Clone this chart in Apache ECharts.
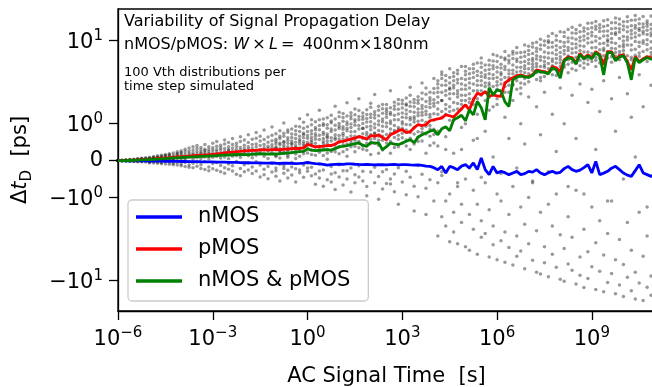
<!DOCTYPE html>
<html>
<head>
<meta charset="utf-8">
<script src="https://cdn.jsdelivr.net/npm/echarts@6/dist/echarts.min.js"></script>
<style>html,body{margin:0;padding:0;background:#fff}#c{width:652px;height:387px}</style>
</head>
<body>
<div id="c"></div>
<script>
const FONT = 'DejaVu Sans';

// Simulation time grid: 8 steps per decade starting at 1e-6 s
const stepsPerDecade = 8;
const firstExp = -6;

// Mean delay shift [ps] per time step
const nmos = [0, -0.001, -0.003, -0.003, -0.005, -0.005, -0.008, -0.008, -0.011, -0.011,
 -0.014, -0.014, -0.016, -0.016, -0.016, -0.019, -0.022, -0.022, -0.024, -0.027,
 -0.027, -0.030, -0.032, -0.032, -0.035, -0.038, -0.041, -0.041, -0.046, -0.049,
 -0.049, -0.054, -0.057, -0.054, -0.060, -0.062, -0.060, -0.065, -0.068, -0.062,
 -0.070, -0.076, -0.070, -0.068, -0.073, -0.078, -0.076, -0.065, -0.049, -0.068,
 -0.081, -0.089, -0.103, -0.122, -0.108, -0.100, -0.095, -0.103, -0.089, -0.087,
 -0.097, -0.103, -0.108, -0.100, -0.105, -0.114, -0.108, -0.111, -0.116, -0.108,
 -0.103, -0.114, -0.108, -0.105, -0.116, -0.119, -0.114, -0.130, -0.149, -0.154,
 -0.189, -0.243, -0.154, -0.333, -0.154, -0.189, -0.243, -0.149, -0.108, -0.198,
 -0.062, -0.243, 0.073, -0.243, -0.379, -0.154, -0.333, -0.289, -0.325, -0.379,
 -0.333, -0.289, -0.379, -0.352, -0.289, -0.311, -0.243, -0.333, -0.379, -0.325,
 -0.289, -0.338, -0.316, -0.216, -0.154, -0.243, -0.289, -0.257, -0.189, -0.108,
 -0.333, -0.019, -0.379, -0.338, -0.289, -0.203, -0.154, -0.243, -0.333, -0.392,
 -0.425, -0.270, -0.108, -0.333, -0.379, -0.425, -0.352];

const pmos = [0, 0.002, 0.003, 0.008, 0.014, 0.019, 0.027, 0.035, 0.043, 0.051,
 0.060, 0.068, 0.073, 0.081, 0.092, 0.100, 0.108, 0.116, 0.124, 0.133,
 0.141, 0.149, 0.154, 0.162, 0.173, 0.181, 0.195, 0.211, 0.222, 0.227,
 0.243, 0.252, 0.265, 0.271, 0.281, 0.276, 0.292, 0.298, 0.287, 0.298,
 0.303, 0.295, 0.311, 0.316, 0.325, 0.335, 0.330, 0.344, 0.446, 0.406,
 0.371, 0.384, 0.392, 0.406, 0.411, 0.446, 0.514, 0.522, 0.555, 0.587,
 0.609, 0.657, 0.622, 0.587, 0.676, 0.663, 0.703, 0.622, 0.568, 0.703,
 0.749, 0.812, 0.839, 0.757, 0.784, 0.893, 0.974, 0.947, 0.974, 1.087,
 1.117, 1.148, 1.171, 1.282, 1.248, 1.204, 1.345, 1.514, 1.692, 1.473,
 1.942, 2.339, 2.232, 2.444, 2.129, 2.232, 2.170, 2.129, 3.084, 3.38,
 3.57, 3.78, 3.88, 3.72, 3.70, 3.88, 4.46, 4.34, 4.25, 4.07,
 4.88, 4.71, 4.22, 5.88, 6.38, 6.21, 5.41, 7.03, 6.21, 6.75,
 6.21, 7.40, 6.75, 5.12, 7.40, 7.40, 5.88, 6.57, 6.75, 5.61,
 4.46, 6.44, 5.61, 6.04, 6.44, 6.17, 6.38];

const both = [0, 0.001, 0.002, 0.005, 0.008, 0.014, 0.019, 0.027, 0.032, 0.038,
 0.043, 0.051, 0.057, 0.062, 0.073, 0.076, 0.084, 0.092, 0.095, 0.105,
 0.108, 0.116, 0.119, 0.127, 0.130, 0.135, 0.146, 0.154, 0.149, 0.160,
 0.162, 0.170, 0.162, 0.162, 0.173, 0.184, 0.189, 0.176, 0.184, 0.181,
 0.181, 0.189, 0.200, 0.208, 0.216, 0.233, 0.243, 0.252, 0.316, 0.284,
 0.271, 0.281, 0.289, 0.298, 0.284, 0.325, 0.379, 0.387, 0.406, 0.433,
 0.460, 0.479, 0.419, 0.387, 0.495, 0.473, 0.479, 0.298, 0.379, 0.479,
 0.446, 0.433, 0.479, 0.527, 0.568, 0.487, 0.636, 0.703, 0.749, 0.798,
 0.825, 0.703, 0.866, 0.920, 0.812, 1.117, 1.181, 1.265, 1.087, 1.473,
 1.282, 1.853, 1.557, 1.117, 2.71, 2.232, 2.56, 2.46, 1.837, 1.614,
 3.38, 3.62, 3.78, 3.67, 3.62, 3.80, 4.34, 4.22, 4.16, 3.99,
 4.71, 4.46, 3.54, 5.72, 6.21, 6.04, 5.26, 6.84, 6.04, 6.57,
 6.04, 7.19, 6.57, 3.88, 7.19, 7.24, 5.72, 6.38, 6.57, 5.41,
 3.38, 6.27, 5.46, 5.88, 6.27, 5.99, 6.21];

// Individual Vth-distribution samples [ps] per time step
const vthSamples = [
 [0.003,-0.002,0.001,0.006,-0.004,0.002,0,-0.001],
 [-0.003,0.009,0.004,-0.007,0.001,0.012,-0.002,0.005],
 [0.016,-0.005,0.002,0.009,-0.011,0.021,0.006,-0.001],
 [0.007,0.028,-0.012,0.003,0.015,-0.004,0.034,-0.017],
 [-0.008,0.019,0.041,-0.021,0.006,0.027,-0.002,0.012],
 [0.052,-0.014,0.009,0.031,-0.027,0.018,0.002,0.044],
 [0.013,0.066,-0.031,0.038,-0.006,0.022,0.057,-0.018],
 [-0.036,0.024,0.081,0.005,0.047,-0.012,0.062,0.011],
 [0.092,-0.044,0.031,0.068,-0.009,0.015,-0.058,0.049],
 [0.021,0.11,-0.025,0.074,0.043,-0.066,0.006,0.088],
 [-0.071,0.057,0.13,0.012,-0.035,0.096,0.034,0.078],
 [0.15,0.029,-0.052,0.085,-0.013,0.061,0.12,-0.083],
 [0.044,-0.091,0.17,0.067,0.105,-0.026,0.008,0.14],
 [-0.039,0.19,0.082,-0.1,0.125,0.018,0.052,0.16],
 [0.21,0.036,-0.068,0.14,0.093,-0.11,0.071,0.017],
 [0.11,-0.12,0.24,0.058,-0.041,0.17,0.089,0.195],
 [0.27,-0.09,0.13,0.19,-0.14,0.045,0.22,0.082],
 [0.015,0.24,-0.16,0.11,0.31,-0.05,0.17,0.07],
 [0.2,-0.12,0.34,0.095,-0.03,0.26,0.15,-0.18],
 [-0.07,0.29,0.12,0.21,-0.19,0.38,0.04,0.16],
 [0.33,0.08,-0.15,0.25,0.18,-0.04,0.41,0.13],
 [0.14,-0.21,0.36,0.06,0.23,0.29,-0.11,0.19],
 [-0.02,0.31,0.17,-0.24,0.44,0.1,0.22,0.27],
 [0.24,0.12,-0.17,0.38,0.05,0.3,-0.27,0.19],
 [0.35,-0.08,0.21,0.47,0.14,-0.22,0.28,0.09],
 [0.11,0.39,-0.26,0.18,0.3,-0.05,0.24,0.52],
 [0.29,0.16,-0.13,0.42,0.07,0.35,-0.3,0.21],
 [-0.19,0.45,0.25,0.1,0.33,-0.34,0.19,0.56],
 [0.38,0.05,0.27,-0.23,0.49,0.16,0.3,-0.09],
 [0.21,0.44,-0.28,0.34,0.12,0.6,-0.14,0.26],
 [0.47,-0.02,0.31,0.19,-0.37,0.39,0.24,0.13],
 [0.09,0.52,0.28,-0.21,0.36,0.17,-0.41,0.65],
 [0.33,0.21,-0.11,0.56,0.27,0.42,-0.3,0.16],
 [0.49,-0.25,0.38,0.13,0.7,0.23,-0.06,0.31],
 [0.26,0.44,-0.35,0.19,0.58,0.34,0.08,-0.17],
 [-0.03,0.37,0.61,0.24,-0.28,0.45,0.15,0.76],
 [0.41,0.18,0.53,-0.44,0.3,-0.12,0.66,0.25],
 [0.12,0.57,0.35,0.21,-0.23,0.83,0.44,-0.38],
 [0.5,-0.16,0.27,0.64,0.39,0.06,-0.49,0.33],
 [0.36,0.69,-0.31,0.22,0.54,-0.08,0.43,0.91],
 [-0.2,0.46,0.29,0.73,0.14,0.58,-0.42,0.37,0.52,0.11,0.34,-0.27],
 [0.6,0.33,-0.1,0.48,0.25,0.81,-0.55,0.19,0.28,0.66,0.07,0.43],
 [0.42,-0.34,0.66,0.2,0.52,0.35,1.02,-0.14,0.74,0.24,-0.21,0.49],
 [0.27,0.55,0.38,-0.26,0.77,0.09,0.47,-0.47,0.31,0.62,0.15,0.83],
 [0.63,-0.05,0.44,0.31,0.86,-0.39,0.53,0.22,0.47,0.72,-0.17,0.36],
 [0.36,0.71,-0.22,0.5,0.18,0.93,0.41,-0.58,0.81,0.27,0.6,0.06],
 [0.57,0.29,0.79,-0.33,0.45,0.12,1.15,0.66,0.34,0.52,-0.25,0.92],
 [-0.12,0.62,0.4,0.88,0.26,-0.45,0.51,0.74,0.7,0.45,0.19,1.04],
 [0.68,0.34,-0.29,0.92,0.5,-0.07,0.21,1.28,0.43,0.79,0.61,-0.2],
 [0.44,0.81,0.17,-0.41,0.63,0.97,-0.18,0.55,0.72,0.29,1.12,0.5],
 [0.9,-0.36,0.58,0.28,1.06,0.47,-0.64,0.73,0.38,0.66,0.15,0.84],
 [0.23,0.69,1.12,-0.09,0.84,0.39,-0.47,1.45,0.57,0.95,0.31,-0.28],
 [0.77,0.46,-0.25,1.0,0.6,0.14,0.95,-0.69,1.14,0.33,0.71,0.52],
 [1.18,0.31,0.72,-0.52,0.53,0.88,0.04,0.66,0.62,0.97,0.21,0.45],
 [0.41,1.03,-0.16,0.79,0.25,1.27,-0.58,0.62,0.86,0.53,1.08,-0.36],
 [0.96,0.57,0.35,-0.33,1.14,0.7,-0.78,1.62,0.44,0.83,0.62,0.24],
 [0.5,1.21,-0.44,0.87,0.19,0.68,1.01,-0.11,0.93,0.59,1.38,0.37],
 [1.07,-0.27,0.74,0.43,1.33,0.59,-0.66,0.92,0.68,0.24,0.85,1.19],
 [0.62,0.98,0.3,1.24,-0.5,0.81,0.12,1.79,0.45,0.88,1.05,-0.27],
 [1.36,0.48,-0.2,0.9,0.67,1.15,-0.85,0.38,0.78,1.24,0.55,0.99],
 [0.79,1.28,0.55,-0.38,1.05,0.24,0.96,-0.6,1.12,0.66,0.39,1.51],
 [0.35,0.86,1.44,0.64,-0.14,1.12,0.47,2.0,0.95,0.52,1.22,-0.44],
 [1.22,-0.55,0.73,1.01,0.4,1.35,-0.29,0.88,0.6,1.13,0.87,0.31],
 [0.58,1.47,0.92,-0.7,0.28,1.16,0.69,-0.95,1.05,0.76,1.29,0.47],
 [1.3,0.71,-0.31,1.06,0.46,1.58,0.84,0.17,0.93,1.19,0.58,1.76],
 [0.89,-0.18,1.39,0.6,1.17,-0.6,0.75,2.25,1.28,0.47,0.99,0.73],
 [0.42,1.25,0.97,1.63,-0.43,0.66,1.08,-1.05,0.82,1.45,0.55,0.2],
 [1.52,0.8,0.29,1.14,-0.77,0.93,1.34,0.55,1.06,0.66,1.71,-0.3],
 [0.71,1.41,-0.24,1.02,1.7,0.48,-0.62,1.2,1.31,0.92,0.59,1.52],
 [1.08,0.52,1.56,0.86,-0.5,1.29,0.2,2.5,0.74,1.37,1.01,-0.63],
 [1.64,-0.36,0.95,1.27,0.63,1.81,-0.84,0.77,1.12,1.49,0.82,0.36],
 [0.9,1.49,0.38,1.12,-0.19,0.69,1.73,-1.2,1.31,0.84,1.96,0.58],
 [1.35,0.74,1.92,-0.58,1.06,0.47,1.55,0.88,0.99,1.2,0.62,1.74],
 [0.56,1.67,1.18,-0.29,0.83,2.04,-0.92,1.31,1.46,0.98,1.73,0.4],
 [1.83,0.97,-0.45,1.4,0.61,1.12,0.3,2.75,1.19,0.76,1.63,2.2],
 [1.21,0.45,1.6,0.89,-0.69,1.96,1.05,-1.45,1.38,1.79,0.72,1.14],
 [0.78,1.5,-0.13,1.25,2.12,0.64,-0.98,1.77,1.07,1.92,1.36,0.52],
 [1.98,1.1,0.53,1.66,-0.37,0.87,1.38,3.1,1.27,0.77,2.35,1.53],
 [1.04,1.85,-0.75,1.29,0.72,2.26,0.2,-1.6,1.6,0.93,1.41,2.7],
 [1.57,0.66,1.2,2.05,-0.52,0.95,1.74,0.41,1.29,2.4,0.86,1.9],
 [2.35,1.32,0.85,-1.1,1.63,0.48,1.95,3.5,1.1,1.76,2.65,0.71],
 [2.1,3.3,1.5,2.7,1.8,0.4,-0.6,-2.9,2.4,1.3,3.0,0.8],
 [3.5,1.4,2.4,4.2,1.9,-0.3,-1.7,-0.4,1.9,2.9,1.2,3.9],
 [2.9,1.7,3.8,2.2,1.3,0.65,-2.2,-1.1,2.5,3.3,1.5,0.3],
 [1.6,2.6,3.1,4.6,2.0,1.1,-0.9,-3.4,2.3,1.4,3.6,2.7],
 [3.7,2.3,1.45,2.9,0.2,3.3,-1.5,-2.6,1.8,2.7,4.1,1.1],
 [2.5,4.0,1.75,3.4,2.1,-0.6,-3.6,-0.7,3.1,1.5,2.3,4.4],
 [1.9,3.0,4.9,2.6,1.5,0.3,-2.0,-1.2,2.2,3.5,1.7,0.9],
 [3.9,2.2,2.9,1.65,4.3,1.0,-0.5,-3.9,2.6,1.9,3.4,4.9],
 [2.7,4.6,1.8,3.5,2.3,-0.2,-4.3,-1.6,3.1,2.0,4.0,1.4],
 [4.1,2.0,5.2,3.0,1.7,0.55,-2.4,-0.8,2.5,3.6,1.9,4.6],
 [3.3,5.4,2.5,4.3,2.0,1.3,-1.2,-4.8,2.9,3.8,1.8,0.6],
 [2.2,3.7,4.8,2.9,6.2,-0.45,-3.0,-1.9,3.3,2.5,4.1,5.4],
 [4.4,2.8,3.6,1.9,5.1,0.8,-0.6,-2.7,2.4,3.9,3.1,1.2],
 [3.1,5.8,2.4,4.0,2.9,1.45,-5.2,-1.4,4.5,3.5,2.1,5.1],
 [5.0,3.5,2.2,4.6,6.8,0.1,-2.2,-3.7,3.9,2.8,5.7,1.6],
 [2.6,4.2,5.6,3.2,2.0,1.7,-0.9,-5.6,3.6,4.8,2.9,6.6],
 [4.7,3.0,6.3,2.5,3.9,-0.35,-3.3,-1.1,3.4,5.2,2.2,4.1],
 [3.6,5.9,2.8,4.5,7.4,1.2,-6.0,-2.6,3.1,4.9,6.2,2.4],
 [5.4,3.3,4.4,2.4,6.6,0.6,-1.6,-4.0,4.0,2.9,5.8,3.6],
 [2.9,6.9,4.0,5.1,3.4,1.9,-0.7,-6.5,4.4,3.0,6.1,7.4],
 [6.0,3.8,2.6,4.8,8.3,-0.2,-2.9,-5.1,4.2,5.6,3.3,7.1],
 [4.3,7.2,3.1,5.5,2.7,1.0,-4.4,-1.3,3.7,6.3,4.8,2.3],
 [3.5,5.0,8.9,4.1,6.5,0.45,-7.2,-2.1,5.6,4.6,7.3,3.0],
 [6.8,4.6,3.2,7.6,5.3,2.1,-1.0,-3.6,4.0,5.9,8.6,3.6],
 [5.2,8.4,3.9,6.1,4.4,-0.55,-5.7,-0.6,4.8,7.0,5.7,9.3],
 [3.4,6.6,9.6,4.9,7.4,1.6,-2.5,-7.9,5.3,4.1,8.1,6.0],
 [7.9,4.2,5.8,10.4,3.6,0.7,-8.3,-1.5,6.4,4.9,8.9,3.3],
 [4.8,8.8,6.3,3.7,5.6,2.4,-3.9,-6.1,7.3,5.1,9.9,4.2],
 [9.5,5.3,7.1,4.1,11.3,-0.3,-1.2,-9.0,6.2,8.3,4.6,10.0],
 [6.0,3.9,8.4,5.0,12.2,1.3,-4.8,-2.2,7.1,4.5,9.5,5.6],
 [4.5,10.1,6.8,7.7,3.8,0.25,-6.9,-0.9,5.4,8.7,11.5,6.1],
 [8.3,5.4,12.8,4.3,6.4,2.7,-2.8,-9.6,7.2,9.8,4.9,5.9],
 [6.9,11.2,4.8,8.6,5.7,1.0,-10.2,-4.1,9.5,5.1,7.6,12.6],
 [4.1,7.6,13.6,5.9,9.7,-0.7,-1.7,-6.3,6.6,10.8,8.3,5.2],
 [10.8,6.2,4.6,8.0,14.5,2.2,-7.5,-3.0,7.1,12.4,5.5,9.2],
 [5.3,12.3,7.2,9.1,4.4,0.6,-0.8,-11.0,8.2,6.3,13.6,10.4],
 [8.7,5.0,15.3,6.6,11.0,3.0,-5.2,-8.6,7.6,12.8,5.8,9.9],
 [13.0,7.3,4.7,10.2,6.0,-0.9,-2.4,-12.1,8.6,11.4,5.4,14.2],
 [6.4,9.4,16.2,5.2,12.1,1.8,-9.4,-4.5,7.3,10.7,13.9,5.9],
 [11.5,5.6,8.2,14.3,7.0,2.6,-1.3,-6.8,9.6,6.4,12.6,16.3],
 [4.9,13.7,9.9,6.3,17.0,0.3,-12.8,-3.5,8.3,11.2,5.8,14.9],
 [9.2,6.8,12.9,5.4,15.6,1.4,-7.7,-1.9,10.7,7.8,14.2,6.1],
 [14.8,8.1,5.8,11.4,7.6,3.3,-4.9,-13.6,9.3,13.0,6.6,17.4],
 [6.2,17.9,10.3,8.8,13.1,-1.1,-10.5,-2.7,7.4,11.5,15.2,9.8],
 [12.2,5.5,9.5,16.4,7.2,2.0,-1.1,-8.2,10.6,8.1,13.9,6.4],
 [8.0,14.1,6.5,11.9,18.7,0.8,-14.4,-5.6,9.3,12.5,16.4,7.2],
 [10.6,7.4,15.8,5.9,12.7,3.6,-3.2,-11.3,8.6,13.9,6.8,18.2],
 [16.9,9.0,6.9,13.5,8.4,-0.5,-6.4,-15.5,11.2,7.6,15.0,9.9],
 [5.7,11.1,19.4,8.9,14.6,2.3,-2.0,-9.1,10.2,6.6,12.8,17.0],
 [13.3,7.7,10.8,17.6,6.3,1.2,-13.2,-4.3,8.9,15.1,12.0,5.9],
 [9.8,15.2,6.7,12.4,20.1,0.1,-7.9,-16.6,11.1,7.9,14.1,17.8],
 [7.1,18.3,11.6,8.5,14.0,3.9,-1.5,-10.7,9.6,13.3,6.5,16.0],
 [15.9,10.0,6.0,13.0,9.3,1.6,-5.1,-17.4,12.1,7.4,14.5,19.6],
 [11.9,7.8,17.3,5.6,14.9,-1.3,-12.0,-2.9,9.0,13.4,10.3,16.1],
 [6.6,13.8,9.7,19.8,8.1,2.9,-8.8,-15.0,11.5,7.2,15.7,12.4],
 [16.2,9.1,12.5,7.5,21.4,0.5,-3.8,-13.9,8.3,14.1,10.8,18.6]
];

// Tick values
const xTickExps = [-6, -3, 0, 3, 6, 9];
const yTickValues = [10, 1, 0, -1, -10];

// symlog transform (linthresh = 1, linscale = 0.4, base 10) like matplotlib
const LINSCALE = 0.4 / (1 - 1 / 10);
function symlog(v) {
  const a = Math.abs(v);
  return a <= 1 ? v * LINSCALE : Math.sign(v) * (LINSCALE + Math.log10(a));
}
const yMin = -1.81, yMax = 1.826; // in symlog units

const time = nmos.map((_, i) => Math.pow(10, firstExp + i / stepsPerDecade));
const xTicks = xTickExps.map(e => Math.pow(10, e));
const scatterData = [];
vthSamples.forEach((row, i) => row.forEach(v => scatterData.push([time[i], symlog(v)])));
const toLine = arr => arr.map((v, i) => [time[i], symlog(v)]);

const sup = n => (n < 0 ? '\u2212' : '') + Math.abs(n);
function yLabel(val) {
  let best = null;
  yTickValues.forEach(t => { if (Math.abs(symlog(t) - val) < 1e-6) best = t; });
  if (best === null) return '';
  if (best === 0) return '{b|0}';
  return '{b|' + (best < 0 ? '\u221210' : '10') + '}{s|' + Math.round(Math.log10(Math.abs(best))) + '}';
}
const labelRich = {
  b: { fontSize: 21, fontFamily: FONT, color: '#000', verticalAlign: 'bottom' },
  s: { fontSize: 15, fontFamily: FONT, color: '#000', verticalAlign: 'bottom', padding: [0, 0, 9, 0] }
};

const chart = echarts.init(document.getElementById('c'), null, { renderer: 'canvas', width: 652, height: 387 });

const option = {
  animation: false,
  backgroundColor: '#ffffff',
  textStyle: { fontFamily: FONT },
  grid: { left: 118, right: -3, top: 9, bottom: 76, containLabel: false, outerBoundsMode: 'none',
    show: true, borderColor: '#000', borderWidth: 1.3, backgroundColor: 'transparent' },
  legend: {
    data: ['nMOS', 'pMOS', 'nMOS & pMOS'],
    orient: 'vertical', left: 128, top: 200,
    padding: [5, 18, 8, 8],
    icon: 'rect',
    itemWidth: 46, itemHeight: 3.5, itemGap: 8,
    selectedMode: false,
    backgroundColor: 'rgba(255,255,255,0.8)',
    borderColor: '#cccccc', borderWidth: 1.3, borderRadius: 4,
    textStyle: { fontSize: 21, color: '#000', fontFamily: FONT, padding: [0, 0, 0, 11], lineHeight: 24 }
  },
  xAxis: {
    type: 'log', logBase: 10, min: 1e-6, max: 1e11,
    name: 'AC Signal Time  [s]', nameLocation: 'middle', nameGap: 55,
    nameTextStyle: { fontSize: 21, color: '#000', fontFamily: FONT },
    axisLine: { show: true, onZero: false, lineStyle: { color: '#000', width: 1.3 } },
    axisTick: { show: true, length: 9, lineStyle: { color: '#000', width: 1.3 }, customValues: xTicks },
    axisLabel: {
      customValues: xTicks, margin: 15, color: '#000', fontSize: 21, fontFamily: FONT,
      formatter: v => '{b|10}{s|' + sup(Math.round(Math.log10(v))) + '}',
      rich: labelRich
    },
    splitLine: { show: false }, minorTick: { show: false }
  },
  yAxis: {
    type: 'value', min: yMin, max: yMax,
    name: '{r|\u0394}{it|t}{sub|D}{r|  [ps]}', nameLocation: 'middle', nameGap: 83,
    nameTextStyle: {
      fontSize: 21, color: '#000', fontFamily: FONT,
      rich: {
        r: { fontSize: 21, fontFamily: FONT, color: '#000', verticalAlign: 'bottom', padding: [0, 0, 4, 0] },
        it: { fontSize: 21, fontFamily: FONT, color: '#000', fontStyle: 'italic', verticalAlign: 'bottom', padding: [0, 0, 4, 0] },
        sub: { fontSize: 15, fontFamily: FONT, color: '#000', verticalAlign: 'bottom' }
      }
    },
    axisLine: { show: true, onZero: false, lineStyle: { color: '#000', width: 1.3 } },
    axisTick: { show: true, length: 9, lineStyle: { color: '#000', width: 1.3 }, customValues: yTickValues.map(symlog) },
    axisLabel: {
      customValues: yTickValues.map(symlog), margin: 15, color: '#000', fontSize: 21, fontFamily: FONT,
      formatter: yLabel, rich: labelRich
    },
    splitLine: { show: false }
  },
  graphic: [
    { type: 'text', x: 124, y: 22, z: 100, style: { text: 'Variability of Signal Propagation Delay', fontSize: 16, fontFamily: FONT, fill: '#000', verticalAlign: 'middle' } },
    { type: 'text', x: 124, y: 44.5, z: 100, style: {
      text: '{n|nMOS/pMOS: }{i|W}{n|\u2009\u00d7\u2009}{i|L}{n|\u2009=\u2009 400nm\u00d7180nm}',
      rich: { n: { fontSize: 16, fontFamily: FONT, fill: '#000' }, i: { fontSize: 16, fontFamily: FONT, fontStyle: 'italic', fill: '#000' } },
      fill: '#000', verticalAlign: 'middle' } },
    { type: 'text', x: 124, y: 72.5, z: 100, style: { text: '100 Vth distributions per', fontSize: 13, fontFamily: FONT, fill: '#000', verticalAlign: 'middle' } },
    { type: 'text', x: 124, y: 86.5, z: 100, style: { text: 'time step simulated', fontSize: 13, fontFamily: FONT, fill: '#000', verticalAlign: 'middle' } }
  ],
  series: [
    { name: 'samples', type: 'scatter', data: scatterData, symbolSize: 3.5, silent: true,
      itemStyle: { color: 'rgba(0,0,0,0.5)' }, z: 1 },
    { name: 'nMOS', type: 'line', data: toLine(nmos), symbol: 'none', lineStyle: { color: '#0000ff', width: 2.8 }, itemStyle: { color: '#0000ff' }, z: 2 },
    { name: 'pMOS', type: 'line', data: toLine(pmos), symbol: 'none', lineStyle: { color: '#ff0000', width: 2.8 }, itemStyle: { color: '#ff0000' }, z: 3 },
    { name: 'nMOS & pMOS', type: 'line', data: toLine(both), symbol: 'none', lineStyle: { color: '#008000', width: 2.8 }, itemStyle: { color: '#008000' }, z: 4 }
  ]
};
chart.setOption(option);
</script>
</body>
</html>
